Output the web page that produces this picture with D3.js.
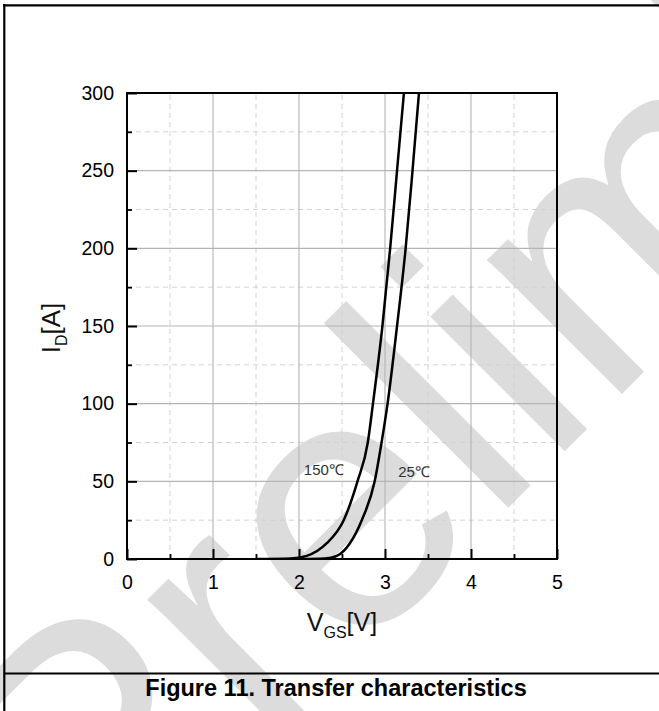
<!DOCTYPE html>
<html>
<head>
<meta charset="utf-8">
<script src="https://cdn.jsdelivr.net/npm/d3@7/dist/d3.min.js"></script>
<style>
  body { margin: 0; background: #fff; }
  svg { display: block; }
</style>
</head>
<body>
<svg id="chart" width="659" height="711"></svg>
<script>
// Transfer characteristics: drain current vs gate-source voltage
const vgs150 = [1.50, 1.90, 2.09, 2.32, 2.52, 2.68, 2.80, 2.86, 2.97, 3.06, 3.14, 3.22];
const id150  = [0,    0.3,  2,    10,   25,   50,   75,   100,  150,  200,  250,  300];
const vgs25  = [2.00, 2.30, 2.44, 2.59, 2.73, 2.88, 2.96, 3.03, 3.14, 3.24, 3.32, 3.395];
const id25   = [0,    0.3,  2,    10,   25,   50,   75,   100,  150,  200,  250,  300];

const xTicks = [0, 1, 2, 3, 4, 5];
const xMinor = [0.5, 1.5, 2.5, 3.5, 4.5];
const yTicks = [0, 50, 100, 150, 200, 250, 300];
const yMinor = [25, 75, 125, 175, 225, 275];

const seriesNames = ["150\u2103", "25\u2103"];
const caption = "Figure 11. Transfer characteristics";
const watermark = "Preliminary";

const FONT = "'Liberation Sans', Arial, Helvetica, sans-serif";

const svg = d3.select("#chart");

// Watermark behind everything
svg.append("text")
  .attr("transform", "translate(95,921) rotate(-45)")
  .attr("font-family", FONT)
  .attr("font-size", 360)
  .attr("fill", "#dcdcdc")
  .text(watermark);

// Page frame
const frame = svg.append("g").attr("stroke", "#000").attr("stroke-width", 2.2);
frame.append("line").attr("x1", 3).attr("x2", 659).attr("y1", 5.3).attr("y2", 5.3);
frame.append("line").attr("x1", 4.3).attr("x2", 4.3).attr("y1", 4).attr("y2", 711);
frame.append("line").attr("x1", 4).attr("x2", 659).attr("y1", 673.5).attr("y2", 673.5);

const x = d3.scaleLinear().domain([0, 5]).range([127, 557]);
const y = d3.scaleLinear().domain([0, 300]).range([559, 93]);

// Grid
const grid = svg.append("g");
grid.selectAll(".vmin").data(xMinor).join("line")
  .attr("x1", d => x(d)).attr("x2", d => x(d)).attr("y1", y(0)).attr("y2", y(300))
  .attr("stroke", "#d2d2d2").attr("stroke-width", 1).attr("stroke-dasharray", "5,4");
grid.selectAll(".hmin").data(yMinor).join("line")
  .attr("y1", d => y(d)).attr("y2", d => y(d)).attr("x1", x(0)).attr("x2", x(5))
  .attr("stroke", "#d2d2d2").attr("stroke-width", 1).attr("stroke-dasharray", "5,4");
grid.selectAll(".vmaj").data(xTicks.slice(1, -1)).join("line")
  .attr("x1", d => x(d)).attr("x2", d => x(d)).attr("y1", y(0)).attr("y2", y(300))
  .attr("stroke", "#b4b4b4").attr("stroke-width", 1.1);
grid.selectAll(".hmaj").data(yTicks.slice(1, -1)).join("line")
  .attr("y1", d => y(d)).attr("y2", d => y(d)).attr("x1", x(0)).attr("x2", x(5))
  .attr("stroke", "#b4b4b4").attr("stroke-width", 1.1);

// Curves
svg.append("clipPath").attr("id", "plotclip")
  .append("rect").attr("x", x(0)).attr("y", y(300)).attr("width", x(5) - x(0)).attr("height", y(0) - y(300));

const line = d3.line().x(d => x(d[0])).y(d => y(d[1])).curve(d3.curveMonotoneX);
const series = [
  d3.zip(vgs150, id150),
  d3.zip(vgs25, id25)
];
svg.append("g").attr("clip-path", "url(#plotclip)")
  .selectAll("path").data(series).join("path")
  .attr("d", line)
  .attr("fill", "none").attr("stroke", "#000").attr("stroke-width", 2.5)
  .attr("stroke-linejoin", "round");

// Series labels
const labelPos = [[2.056, 57.5], [3.153, 56]];
svg.selectAll(".slabel").data(seriesNames).join("text")
  .attr("x", (d, i) => x(labelPos[i][0]))
  .attr("y", (d, i) => y(labelPos[i][1]))
  .attr("dy", "0.35em")
  .attr("font-family", FONT).attr("font-size", 15).attr("fill", "#333")
  .text(d => d);

// Axes (ticks point inward)
const axisStyle = g => {
  g.select(".domain").remove();
  g.selectAll(".tick line").attr("stroke", "#000");
  g.selectAll("text").attr("font-family", FONT).attr("font-size", 19.5).attr("fill", "#000");
};

svg.append("g").attr("transform", `translate(${x(0)},0)`)
  .call(d3.axisLeft(y).tickValues(yMinor).tickSize(-5).tickFormat(""))
  .call(axisStyle).selectAll(".tick line").attr("stroke-width", 1.8);
svg.append("g").attr("transform", `translate(${x(0)},0)`)
  .call(d3.axisLeft(y).tickValues(yTicks).tickSize(-10).tickPadding(13).tickFormat(d3.format("d")))
  .call(axisStyle).selectAll(".tick line").attr("stroke-width", 2);

svg.append("g").attr("transform", `translate(0,${y(0)})`)
  .call(d3.axisBottom(x).tickValues(xMinor).tickSize(-5).tickFormat(""))
  .call(axisStyle).selectAll(".tick line").attr("stroke-width", 1.8);
svg.append("g").attr("transform", `translate(0,${y(0)})`)
  .call(d3.axisBottom(x).tickValues(xTicks).tickSize(-10).tickPadding(16).tickFormat(d3.format("d")))
  .call(axisStyle).selectAll(".tick line").attr("stroke-width", 2);

// Plot border
svg.append("rect")
  .attr("x", x(0)).attr("y", y(300)).attr("width", x(5) - x(0)).attr("height", y(0) - y(300))
  .attr("fill", "none").attr("stroke", "#000").attr("stroke-width", 2);

// Axis titles
const xt = svg.append("text")
  .attr("x", (x(0) + x(5)) / 2).attr("y", 631)
  .attr("text-anchor", "middle")
  .attr("font-family", FONT).attr("font-size", 25).attr("fill", "#111");
xt.append("tspan").text("V");
xt.append("tspan").attr("font-size", 16).attr("dy", 7).text("GS");
xt.append("tspan").attr("dy", -7).text("[V]");

const yt = svg.append("text")
  .attr("transform", `translate(60,${(y(0) + y(300)) / 2 + 2}) rotate(-90)`)
  .attr("text-anchor", "middle")
  .attr("font-family", FONT).attr("font-size", 26).attr("fill", "#111");
yt.append("tspan").text("I");
yt.append("tspan").attr("font-size", 16).attr("dy", 7).text("D");
yt.append("tspan").attr("dy", -7).text("[A]");

// Caption
svg.append("text")
  .attr("x", 336).attr("y", 696)
  .attr("text-anchor", "middle")
  .attr("font-family", FONT).attr("font-size", 23.5).attr("font-weight", "bold").attr("fill", "#000")
  .text(caption);
</script>
</body>
</html>
